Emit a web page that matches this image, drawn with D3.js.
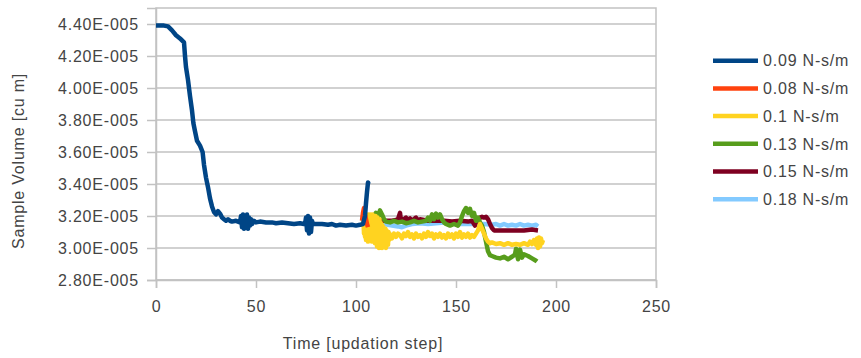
<!DOCTYPE html>
<html><head><meta charset="utf-8">
<script src="https://cdn.jsdelivr.net/npm/d3@7"></script>
<style>
body{margin:0;background:#fff;}
svg text{font-family:"Liberation Sans",Arial,sans-serif;font-size:16px;fill:#444;letter-spacing:0.8px;}
</style>
</head><body>
<svg id="chart" width="861" height="358"></svg>
<script>
// ---- data (volume in units of 1E-005 cu m) ----
const seriesNames = ["0.09 N-s/m","0.08 N-s/m","0.1 N-s/m","0.13 N-s/m","0.15 N-s/m","0.18 N-s/m"];
const seriesColors = ["#004586","#ff420e","#ffd320","#579d1c","#7e0021","#83caff"];

const t09 = [0,2,4,6,8,10,12,14,14.5,15,16,17,18,18.7,19.5,20.5,22,23.3,24,25,26,27,28,29,30,31,32,33,34,35,36,37,38,40,
  42,42.5,43,43.5,44,44.5,45,45.5,46,46.5,47,47.5,48,49,50,
  52,55,58,60,63,66,69,72,74,
  74.5,75,75.5,76,76.5,77,77.5,78,78.5,
  80,83,86,88,90,92,95,98,100,102,103.5,104.5,105,105.5,106,106.3];
const v09 = [4.39,4.39,4.39,4.385,4.36,4.33,4.31,4.285,4.20,4.13,4.05,3.95,3.86,3.78,3.73,3.67,3.64,3.60,3.52,3.44,3.38,3.31,3.26,3.225,3.21,3.23,3.215,3.19,3.18,3.17,3.18,3.17,3.165,3.17,
  3.16,3.20,3.13,3.21,3.12,3.20,3.13,3.21,3.12,3.19,3.14,3.18,3.15,3.17,3.16,
  3.165,3.16,3.16,3.155,3.16,3.155,3.15,3.155,3.15,
  3.15,3.19,3.11,3.20,3.09,3.19,3.10,3.17,3.15,
  3.15,3.15,3.145,3.15,3.14,3.145,3.14,3.145,3.14,3.145,3.15,3.20,3.28,3.35,3.41,3.40];

const t08 = [103,103.5,104,104.5,105,105.5,106];
const v08 = [3.17,3.22,3.25,3.21,3.18,3.15,3.13];

const t10 = [103.5,103.75,104,104.25,104.5,104.75,105,105.25,105.5,105.75,
  106,106.25,106.5,106.75,107,107.25,107.5,107.75,108,108.25,
  108.5,108.75,109,109.25,109.5,109.75,110,110.25,110.5,110.75,
  111,111.25,111.5,111.75,112,112.25,112.5,112.75,113,113.25,
  113.5,113.75,114,114.25,114.5,114.75,115,115.25,115.5,115.75,
  116,116.25,116.5,116.75,117,
  118,119,120,121,122,123,124,125,126,127,128,129,130,131,132,133,134,135,136,137,138,139,140,141,142,143,144,145,146,147,148,149,150,151,152,153,154,155,156,157,158,159,160,161,162,163,164,165,166,167,168,170,172,174,176,178,180,182,184,186,187,188,189,190,190.5,191,191.5,192,192.5,193,193.5];
const v10 = [3.13,3.17,3.09,3.20,3.07,3.19,3.05,3.21,3.08,3.20,
  3.04,3.21,3.07,3.19,3.05,3.21,3.06,3.20,3.04,3.21,
  3.07,3.20,3.05,3.19,3.03,3.20,3.06,3.18,3.01,3.19,
  3.05,3.17,3.00,3.18,3.04,3.16,3.02,3.15,3.00,3.14,
  3.04,3.13,3.01,3.12,3.03,3.12,3.00,3.11,3.04,3.10,
  3.02,3.10,3.05,3.09,3.06,
  3.06,3.09,3.07,3.09,3.08,3.06,3.09,3.075,3.10,3.07,3.085,3.06,3.09,3.07,3.08,3.06,3.09,3.07,3.10,3.075,3.09,3.06,3.085,3.07,3.09,3.065,3.08,3.06,3.09,3.07,3.085,3.06,3.09,3.07,3.10,3.065,3.085,3.07,3.09,3.065,3.08,3.07,3.09,3.11,3.15,3.12,3.09,3.06,3.04,3.03,3.035,3.025,3.03,3.02,3.03,3.02,3.025,3.02,3.03,3.02,3.04,3.025,3.05,3.02,3.06,3.00,3.065,3.01,3.06,3.03,3.05];

const t13 = [108,109,110,111,112,113,114,115,117,119,121,123,125,127,129,131,133,135,136,137,138,139,140,141,142,143,144,145,147,149,151,152,153,154,155,156,157,158,159,160,161,162,163,164,165,166,167,168,170,172,174,176,178,179.5,180,181,182,183,184,186,188,190,190.5];
const v13 = [3.17,3.20,3.22,3.19,3.235,3.21,3.18,3.165,3.16,3.17,3.16,3.165,3.155,3.16,3.17,3.16,3.165,3.17,3.19,3.17,3.21,3.18,3.215,3.19,3.21,3.18,3.16,3.15,3.14,3.15,3.14,3.16,3.20,3.23,3.25,3.22,3.245,3.20,3.22,3.17,3.19,3.16,3.14,3.10,3.04,2.98,2.955,2.95,2.94,2.935,2.945,2.93,2.945,2.96,2.995,2.93,2.99,2.94,2.96,2.95,2.935,2.92,2.915];

const t15 = [110,114,118,120,121,122,122.5,124,125,126,127,128,130,131,132,134,136,140,144,148,152,156,158,159.5,160,161,162,163,164,165,166,167,168,169,172,176,180,184,188,191];
const v15 = [3.17,3.17,3.17,3.175,3.18,3.22,3.17,3.18,3.19,3.175,3.185,3.17,3.19,3.17,3.18,3.175,3.17,3.17,3.17,3.165,3.17,3.165,3.17,3.14,3.16,3.17,3.19,3.195,3.19,3.195,3.18,3.15,3.125,3.11,3.11,3.11,3.11,3.11,3.115,3.11];

const t18 = [106,110,114,118,121,123,125,128,132,136,140,144,146,148,152,156,160,164,168,170,172,174,176,178,180,182,184,186,188,190,191];
const v18 = [3.15,3.155,3.15,3.14,3.135,3.13,3.14,3.15,3.155,3.15,3.155,3.16,3.16,3.155,3.15,3.15,3.15,3.15,3.145,3.15,3.14,3.15,3.14,3.145,3.14,3.15,3.14,3.145,3.14,3.145,3.135];

const xTicks = [0,50,100,150,200,250];
const yTicks = [2.8,3.0,3.2,3.4,3.6,3.8,4.0,4.2,4.4];
const yTickLabels = ["2.80E-005","3.00E-005","3.20E-005","3.40E-005","3.60E-005","3.80E-005","4.00E-005","4.20E-005","4.40E-005"];
const xTitle = "Time [updation step]";
const yTitle = "Sample Volume [cu m]";

// ---- drawing ----
const svg = d3.select("#chart");
const L = 156, R = 656, T = 8, B = 280;
const x = d3.scaleLinear().domain([0,250]).range([L,R]);
const y = d3.scaleLinear().domain([2.8,4.5]).range([B,T]);
const grid = "#c2c2c2";

svg.append("g").selectAll("line").data(yTicks).join("line")
  .attr("x1",L).attr("x2",R).attr("y1",d=>y(d)).attr("y2",d=>y(d))
  .attr("stroke",grid).attr("stroke-width",1.5);

svg.append("rect").attr("x",L).attr("y",T).attr("width",R-L).attr("height",B-T)
  .attr("fill","none").attr("stroke",grid).attr("stroke-width",1.5);

const yAxis = d3.axisLeft(y).tickValues(yTicks).tickSize(9).tickPadding(8)
  .tickFormat((d,i)=>yTickLabels[i]);
const gy = svg.append("g").attr("transform",`translate(${L},0)`).call(yAxis);
const xAxis = d3.axisBottom(x).tickValues(xTicks).tickSize(8).tickPadding(13);
const gx = svg.append("g").attr("transform",`translate(0,${B})`).call(xAxis);
[gy,gx].forEach(g=>{
  g.select(".domain").attr("stroke",grid).attr("stroke-width",1.5);
  g.selectAll(".tick line").attr("stroke",grid).attr("stroke-width",1.5);
  g.selectAll(".tick text").attr("font-size",null).attr("font-family",null).attr("fill","#444");
});
gy.selectAll(".tick text").attr("dy","0.36em");

const series = [[t09,v09],[t08,v08],[t10,v10],[t13,v13],[t15,v15],[t18,v18]];
const line = d3.line().x(d=>x(d[0])).y(d=>y(d[1]));
for (let i = series.length-1; i>=0; i--) {
  const [ts,vs] = series[i];
  const pts = ts.map((t,k)=>[t,vs[k]]);
  svg.append("path").datum(pts).attr("d",line)
    .attr("fill","none").attr("stroke",seriesColors[i]).attr("stroke-width",4.5)
    .attr("stroke-linejoin","round").attr("stroke-linecap","butt");
}

const lg = svg.append("g");
seriesNames.forEach((n,i)=>{
  const yy = 60.7 + i*27.7;
  lg.append("line").attr("x1",713).attr("x2",758).attr("y1",yy).attr("y2",yy)
    .attr("stroke",seriesColors[i]).attr("stroke-width",4.5);
  lg.append("text").attr("x",763).attr("y",yy).attr("dy","0.36em").text(n);
});

svg.append("text").attr("x",363).attr("y",349).attr("text-anchor","middle").text(xTitle);
svg.append("text").attr("transform","translate(24,161) rotate(-90)").attr("text-anchor","middle").text(yTitle);
</script>
</body></html>
